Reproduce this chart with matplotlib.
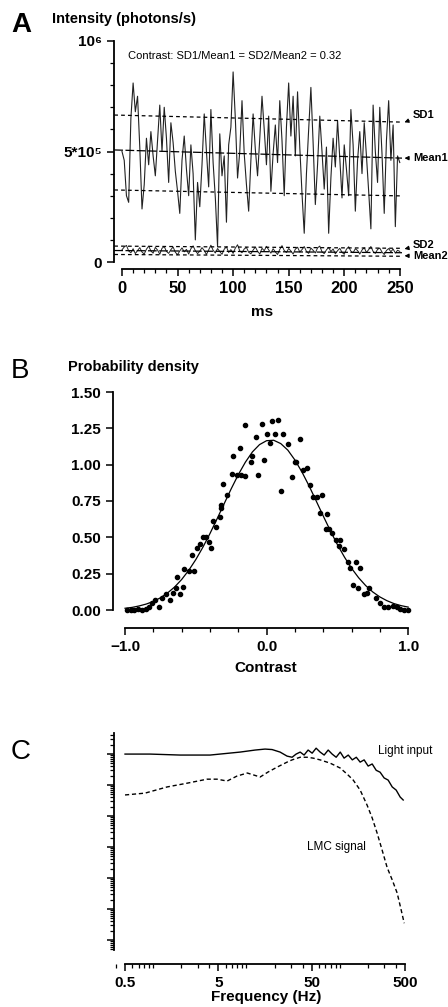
import numpy as np
import matplotlib
matplotlib.use("Agg")
import matplotlib.pyplot as plt
from matplotlib.ticker import MultipleLocator, FixedLocator, NullFormatter, LogLocator

plt.rcParams['font.family'] = ['Liberation Sans', 'DejaVu Sans']

# ---------------- data ----------------
# A: intensity traces (photons/s), sampled every 2 ms over 0-250 ms
trace1 = [5.0, 4.6, 3.0, 2.7, 6.5, 8.1, 6.8, 7.5, 5.2, 2.4, 3.5, 5.6, 4.4, 5.9, 4.8, 3.9,
          5.5, 7.1, 5.0, 7.0, 5.6, 3.6, 6.3, 5.4, 4.1, 3.2, 2.2, 4.6, 5.7, 4.2, 3.0, 5.3,
          4.0, 1.0, 3.6, 2.5, 4.4, 6.7, 5.0, 3.4, 6.9, 4.5, 2.9, 0.7, 5.8, 3.9, 4.8, 1.8,
          5.3, 6.1, 8.6, 6.5, 3.8, 5.0, 7.3, 4.9, 3.5, 2.3, 4.6, 6.7, 5.1, 3.9, 5.6, 7.5,
          6.0, 4.4, 6.6, 3.2, 4.9, 6.2, 4.5, 7.3, 5.5, 3.0, 6.1, 8.1, 5.7, 7.5, 4.8, 7.7,
          5.2, 3.1, 1.3, 4.0, 6.0, 7.9, 5.4, 2.6, 4.4, 6.6, 5.0, 3.3, 5.2, 1.3, 3.8, 5.6,
          4.3, 6.4, 4.7, 2.9, 5.3, 4.2, 3.0, 6.9, 5.3, 2.3, 4.6, 5.9, 4.0, 6.3, 4.8, 3.2,
          1.5, 7.1, 5.0, 3.6, 7.0, 4.9, 2.2, 5.5, 7.3, 4.6, 6.2, 1.6, 4.8, 4.5]
trace1 = np.array(trace1) * 1e5
trace2 = [5.5, 6.8, 7.5, 5.0, 4.2, 6.0, 3.8, 5.2, 6.5, 4.5, 3.6, 5.8, 7.2, 5.0, 4.0, 6.6,
          5.4, 3.5, 6.2, 7.0, 4.8, 3.9, 5.6, 6.8, 4.4, 3.3, 5.0, 6.4, 4.6, 5.7, 3.6, 6.0,
          7.3, 5.1, 3.8, 4.9, 6.5, 5.2, 3.4, 5.5, 7.6, 5.3, 4.1, 6.1, 4.7, 3.5, 5.8, 6.9,
          4.3, 5.6, 3.9, 6.3, 7.8, 5.0, 4.2, 5.9, 6.6, 4.4, 3.7, 5.4, 6.8, 4.9, 3.6, 6.2,
          5.1, 7.1, 5.5, 4.0, 6.0, 4.6, 3.4, 5.7, 7.4, 5.2, 4.3, 6.1, 5.0, 3.6, 5.8, 6.7,
          4.5, 5.6, 7.0, 4.8, 3.9, 6.3, 5.3, 4.1, 6.4, 7.2, 4.6, 3.8, 5.5, 6.6, 4.7, 5.9,
          3.7, 5.1, 6.2, 4.4, 3.5, 5.8, 6.9, 4.9, 4.2, 6.0, 5.2, 3.6, 5.4, 6.5, 4.3, 5.6,
          7.0, 4.8, 3.9, 5.7, 6.3, 4.5, 3.4, 5.2, 6.1, 4.6, 5.9, 4.0, 5.3, 4.8]
trace2 = np.array(trace2) * 1e4
time1 = np.linspace(0, 250, len(trace1))
time2 = np.linspace(0, 250, len(trace2))

# fitted mean / SD lines (start, end)
line_t = [-7, 252]
sd1_hi = [6.65e5, 6.33e5]
mean1 = [5.07e5, 4.70e5]
sd1_lo = [3.26e5, 2.99e5]
sd2_hi = [7.2e4, 6.2e4]
mean2 = [5.2e4, 4.2e4]
sd2_lo = [3.4e4, 2.6e4]

# B: probability density of contrast
contrast_pts = [-0.983, -0.96, -0.94, -0.91, -0.88, -0.85, -0.83, -0.81, -0.79, -0.76,
                -0.74, -0.71, -0.68, -0.66, -0.64, -0.61, -0.59, -0.63, -0.58, -0.55,
                -0.51, -0.53, -0.49, -0.47, -0.45, -0.43, -0.41, -0.39, -0.38, -0.36,
                -0.33, -0.32, -0.324, -0.305, -0.28, -0.245, -0.235, -0.21, -0.187, -0.18,
                -0.152, -0.15, -0.112, -0.1, -0.074, -0.06, -0.034, -0.018, 0.0, 0.025,
                0.04, 0.06, 0.079, 0.10, 0.119, 0.15, 0.18, 0.20, 0.21, 0.237,
                0.26, 0.288, 0.31, 0.33, 0.355, 0.39, 0.378, 0.43, 0.42, 0.44,
                0.46, 0.49, 0.52, 0.51, 0.55, 0.575, 0.59, 0.63, 0.66, 0.61,
                0.645, 0.69, 0.71, 0.72, 0.77, 0.80, 0.83, 0.86, 0.89, 0.92,
                0.94, 0.97, 1.0]
density_pts = [0.0, 0.0, 0.0, 0.005, 0.0, 0.01, 0.02, 0.045, 0.07, 0.02,
               0.085, 0.11, 0.07, 0.12, 0.15, 0.11, 0.16, 0.23, 0.28, 0.27,
               0.27, 0.38, 0.43, 0.455, 0.50, 0.50, 0.47, 0.43, 0.61, 0.57,
               0.64, 0.70, 0.72, 0.867, 0.79, 0.935, 1.06, 0.93, 1.117, 0.93,
               1.275, 0.92, 1.02, 1.06, 1.19, 0.93, 1.28, 1.03, 1.21, 1.15,
               1.30, 1.21, 1.31, 0.82, 1.21, 1.14, 0.917, 1.02, 1.02, 1.18,
               0.96, 0.977, 0.86, 0.78, 0.78, 0.79, 0.664, 0.66, 0.56, 0.56,
               0.53, 0.48, 0.48, 0.44, 0.42, 0.33, 0.29, 0.33, 0.29, 0.17,
               0.15, 0.11, 0.12, 0.15, 0.08, 0.045, 0.02, 0.02, 0.03, 0.02,
               0.01, 0.0, 0.0]
fit_x = [-1.0, -0.95, -0.9, -0.85, -0.8, -0.75, -0.7, -0.65, -0.6, -0.55, -0.5,
         -0.45, -0.4, -0.35, -0.3, -0.25, -0.2, -0.15, -0.1, -0.05, 0.0,
         0.05, 0.1, 0.15, 0.2, 0.25, 0.3, 0.35, 0.4, 0.45, 0.5,
         0.55, 0.6, 0.65, 0.7, 0.75, 0.8, 0.85, 0.9, 0.95, 1.0]
fit_y = [0.012, 0.018, 0.028, 0.041, 0.059, 0.084, 0.117, 0.158, 0.210, 0.273, 0.347,
         0.432, 0.526, 0.627, 0.731, 0.834, 0.931, 1.017, 1.088, 1.138, 1.165,
         1.168, 1.145, 1.100, 1.032, 0.949, 0.854, 0.751, 0.647, 0.546, 0.450,
         0.364, 0.287, 0.222, 0.168, 0.124, 0.090, 0.064, 0.044, 0.030, 0.020]

# C: power spectra (relative units)
light_freq = [0.5, 0.93, 1.94, 4.07, 8.54, 12.4, 15.8, 18.8, 22.9, 27.2, 30.8, 34.0, 37.6,
              41.4, 45.7, 50.5, 55.7, 61.5, 67.9, 75.0, 82.7, 91.3, 101, 111, 123, 136,
              150, 165, 182, 201, 222, 245, 270, 298, 329, 364, 401, 443, 477]
light_power = [1.0, 1.0, 0.93, 0.93, 1.16, 1.35, 1.45, 1.40, 1.16, 0.86, 0.79, 1.0, 1.16,
               0.93, 1.35, 1.07, 1.55, 1.16, 0.93, 1.35, 1.0, 0.79, 1.16, 0.74, 0.93, 0.65,
               0.79, 0.55, 0.65, 0.41, 0.48, 0.30, 0.26, 0.17, 0.145, 0.087, 0.069, 0.041, 0.033]
lmc_freq = [0.5, 0.82, 1.41, 2.31, 3.78, 4.84, 6.2, 7.9, 10.2, 12.1, 14.0, 17.0, 21.3,
            27.2, 30.8, 37.6, 44.6, 51.8, 61.5, 78.7, 100.8, 120, 139, 165, 196, 222,
            251, 284, 321, 364, 411, 454, 489]
lmc_power = [0.048, 0.055, 0.087, 0.115, 0.155, 0.155, 0.135, 0.195, 0.245, 0.209, 0.182,
             0.263, 0.38, 0.55, 0.65, 0.79, 0.79, 0.74, 0.65, 0.51, 0.355, 0.224, 0.145,
             0.069, 0.0224, 0.0087, 0.0028, 7.9e-4, 2.2e-4, 8.7e-5, 3.3e-5, 9.3e-6, 3.5e-6]

# ---------------- layout ----------------
W, H = 448, 1007
fig = plt.figure(figsize=(W / 100, H / 100), dpi=100)


def box(left, top, right, bottom):
    return [left / W, 1 - bottom / H, (right - left) / W, (bottom - top) / H]


def ftext(px, py, s, **kw):
    fig.text(px / W, 1 - py / H, s, **kw)


def style(ax):
    for side in ('top', 'right'):
        ax.spines[side].set_visible(False)
    for side in ('left', 'bottom'):
        ax.spines[side].set_linewidth(1.3)
    ax.tick_params(which='major', length=5, width=1.1, labelsize=11)
    ax.tick_params(which='minor', length=3, width=0.9)
    for lab in ax.get_xticklabels() + ax.get_yticklabels():
        lab.set_fontweight('bold')


# ---- panel A ----
axA = fig.add_axes(box(114, 41, 402, 262))
axA.plot(time1, trace1, color='#222222', lw=0.8)
axA.plot(time2, trace2, color='#222222', lw=0.7)
for vals in (sd1_hi, sd1_lo, sd2_hi, sd2_lo):
    axA.plot(line_t, vals, color='k', lw=0.9, ls=(0, (3, 2.5)))
for vals in (mean1, mean2):
    axA.plot(line_t, vals, color='k', lw=0.9, ls=(0, (7, 2)))
axA.set_xlim(-7.2, 252)
axA.set_ylim(0, 1e6)
axA.spines['bottom'].set_position(('outward', 5))
axA.spines['bottom'].set_bounds(0, 250)
axA.xaxis.set_major_locator(MultipleLocator(50))
axA.xaxis.set_minor_locator(MultipleLocator(10))
axA.yaxis.set_major_locator(FixedLocator([0, 5e5, 1e6]))
axA.yaxis.set_minor_locator(MultipleLocator(1e5))
axA.set_yticklabels(['0', '5*10⁵', '10⁶'])
style(axA)
axA.tick_params(axis='x', labelsize=12)

arrow = dict(arrowstyle='-|>', lw=0.8, color='k', mutation_scale=6, shrinkA=1, shrinkB=1)
axA.annotate('SD1', xy=(253, 6.3e5), xytext=(262, 6.65e5), fontsize=8, fontweight='bold',
             va='center', ha='left', arrowprops=arrow, annotation_clip=False)
axA.annotate('Mean1', xy=(253, 4.7e5), xytext=(262, 4.7e5), fontsize=8, fontweight='bold',
             va='center', ha='left', arrowprops=arrow, annotation_clip=False)
axA.annotate('SD2', xy=(253, 5.8e4), xytext=(262, 7.8e4), fontsize=8, fontweight='bold',
             va='center', ha='left', arrowprops=arrow, annotation_clip=False)
axA.annotate('Mean2', xy=(253, 2.8e4), xytext=(262, 2.8e4), fontsize=8, fontweight='bold',
             va='center', ha='left', arrowprops=arrow, annotation_clip=False)

ftext(11, 25, 'A', fontsize=20, fontweight='bold', va='center')
ftext(52, 19, 'Intensity (photons/s)', fontsize=10.5, fontweight='bold', va='center')
ftext(128, 56, 'Contrast: SD1/Mean1 = SD2/Mean2 = 0.32', fontsize=8, va='center')
ftext(262, 312, 'ms', fontsize=11, fontweight='bold', va='center', ha='center')

# ---- panel B ----
axB = fig.add_axes(box(113, 392, 411, 610))
axB.plot(fit_x, fit_y, color='k', lw=0.9)
axB.scatter(contrast_pts, density_pts, s=9, color='k', zorder=3, clip_on=False)
axB.set_xlim(-1.085, 1.02)
axB.set_ylim(0, 1.5)
axB.spines['bottom'].set_position(('outward', 13))
axB.spines['bottom'].set_bounds(-1, 1)
axB.xaxis.set_major_locator(FixedLocator([-1, 0, 1]))
axB.xaxis.set_minor_locator(MultipleLocator(0.2))
axB.set_xticklabels(['\u22121.0', '0.0', '1.0'])
axB.yaxis.set_major_locator(MultipleLocator(0.25))
axB.set_yticklabels(['%.2f' % v for v in np.arange(0, 1.51, 0.25)])
axB.set_yticks(np.arange(0, 1.51, 0.25))
style(axB)

ftext(11, 371, 'B', fontsize=20, va='center')
ftext(68, 367, 'Probability density', fontsize=10.5, fontweight='bold', va='center')
ftext(266, 668, 'Contrast', fontsize=11, fontweight='bold', va='center', ha='center')

# ---- panel C ----
axC = fig.add_axes(box(114, 733, 408, 950))
axC.plot(light_freq, light_power, color='k', lw=1.0)
axC.plot(lmc_freq, lmc_power, color='k', lw=1.0, ls=(0, (3, 2)))
axC.set_xscale('log')
axC.set_yscale('log')
axC.set_xlim(0.381, 537)
axC.set_ylim(10 ** -6.32, 10 ** 0.68)
axC.spines['bottom'].set_position(('outward', 10))
axC.spines['bottom'].set_bounds(0.5, 500)
axC.xaxis.set_major_locator(FixedLocator([0.5, 5, 50, 500]))
axC.xaxis.set_minor_locator(LogLocator(base=10, subs=np.arange(1, 10)))
axC.xaxis.set_minor_formatter(NullFormatter())
axC.set_xticklabels(['0.5', '5', '50', '500'])
axC.yaxis.set_major_locator(LogLocator(base=10))
axC.yaxis.set_minor_locator(LogLocator(base=10, subs=np.arange(2, 10)))
axC.yaxis.set_major_formatter(NullFormatter())
axC.yaxis.set_minor_formatter(NullFormatter())
style(axC)

ftext(11, 752, 'C', fontsize=20, va='center')
ftext(378, 751, 'Light input', fontsize=8.5, va='center')
ftext(307, 847, 'LMC signal', fontsize=8.5, va='center')
ftext(266, 997, 'Frequency (Hz)', fontsize=11, fontweight='bold', va='center', ha='center')

fig.savefig('out.png', dpi=100)
